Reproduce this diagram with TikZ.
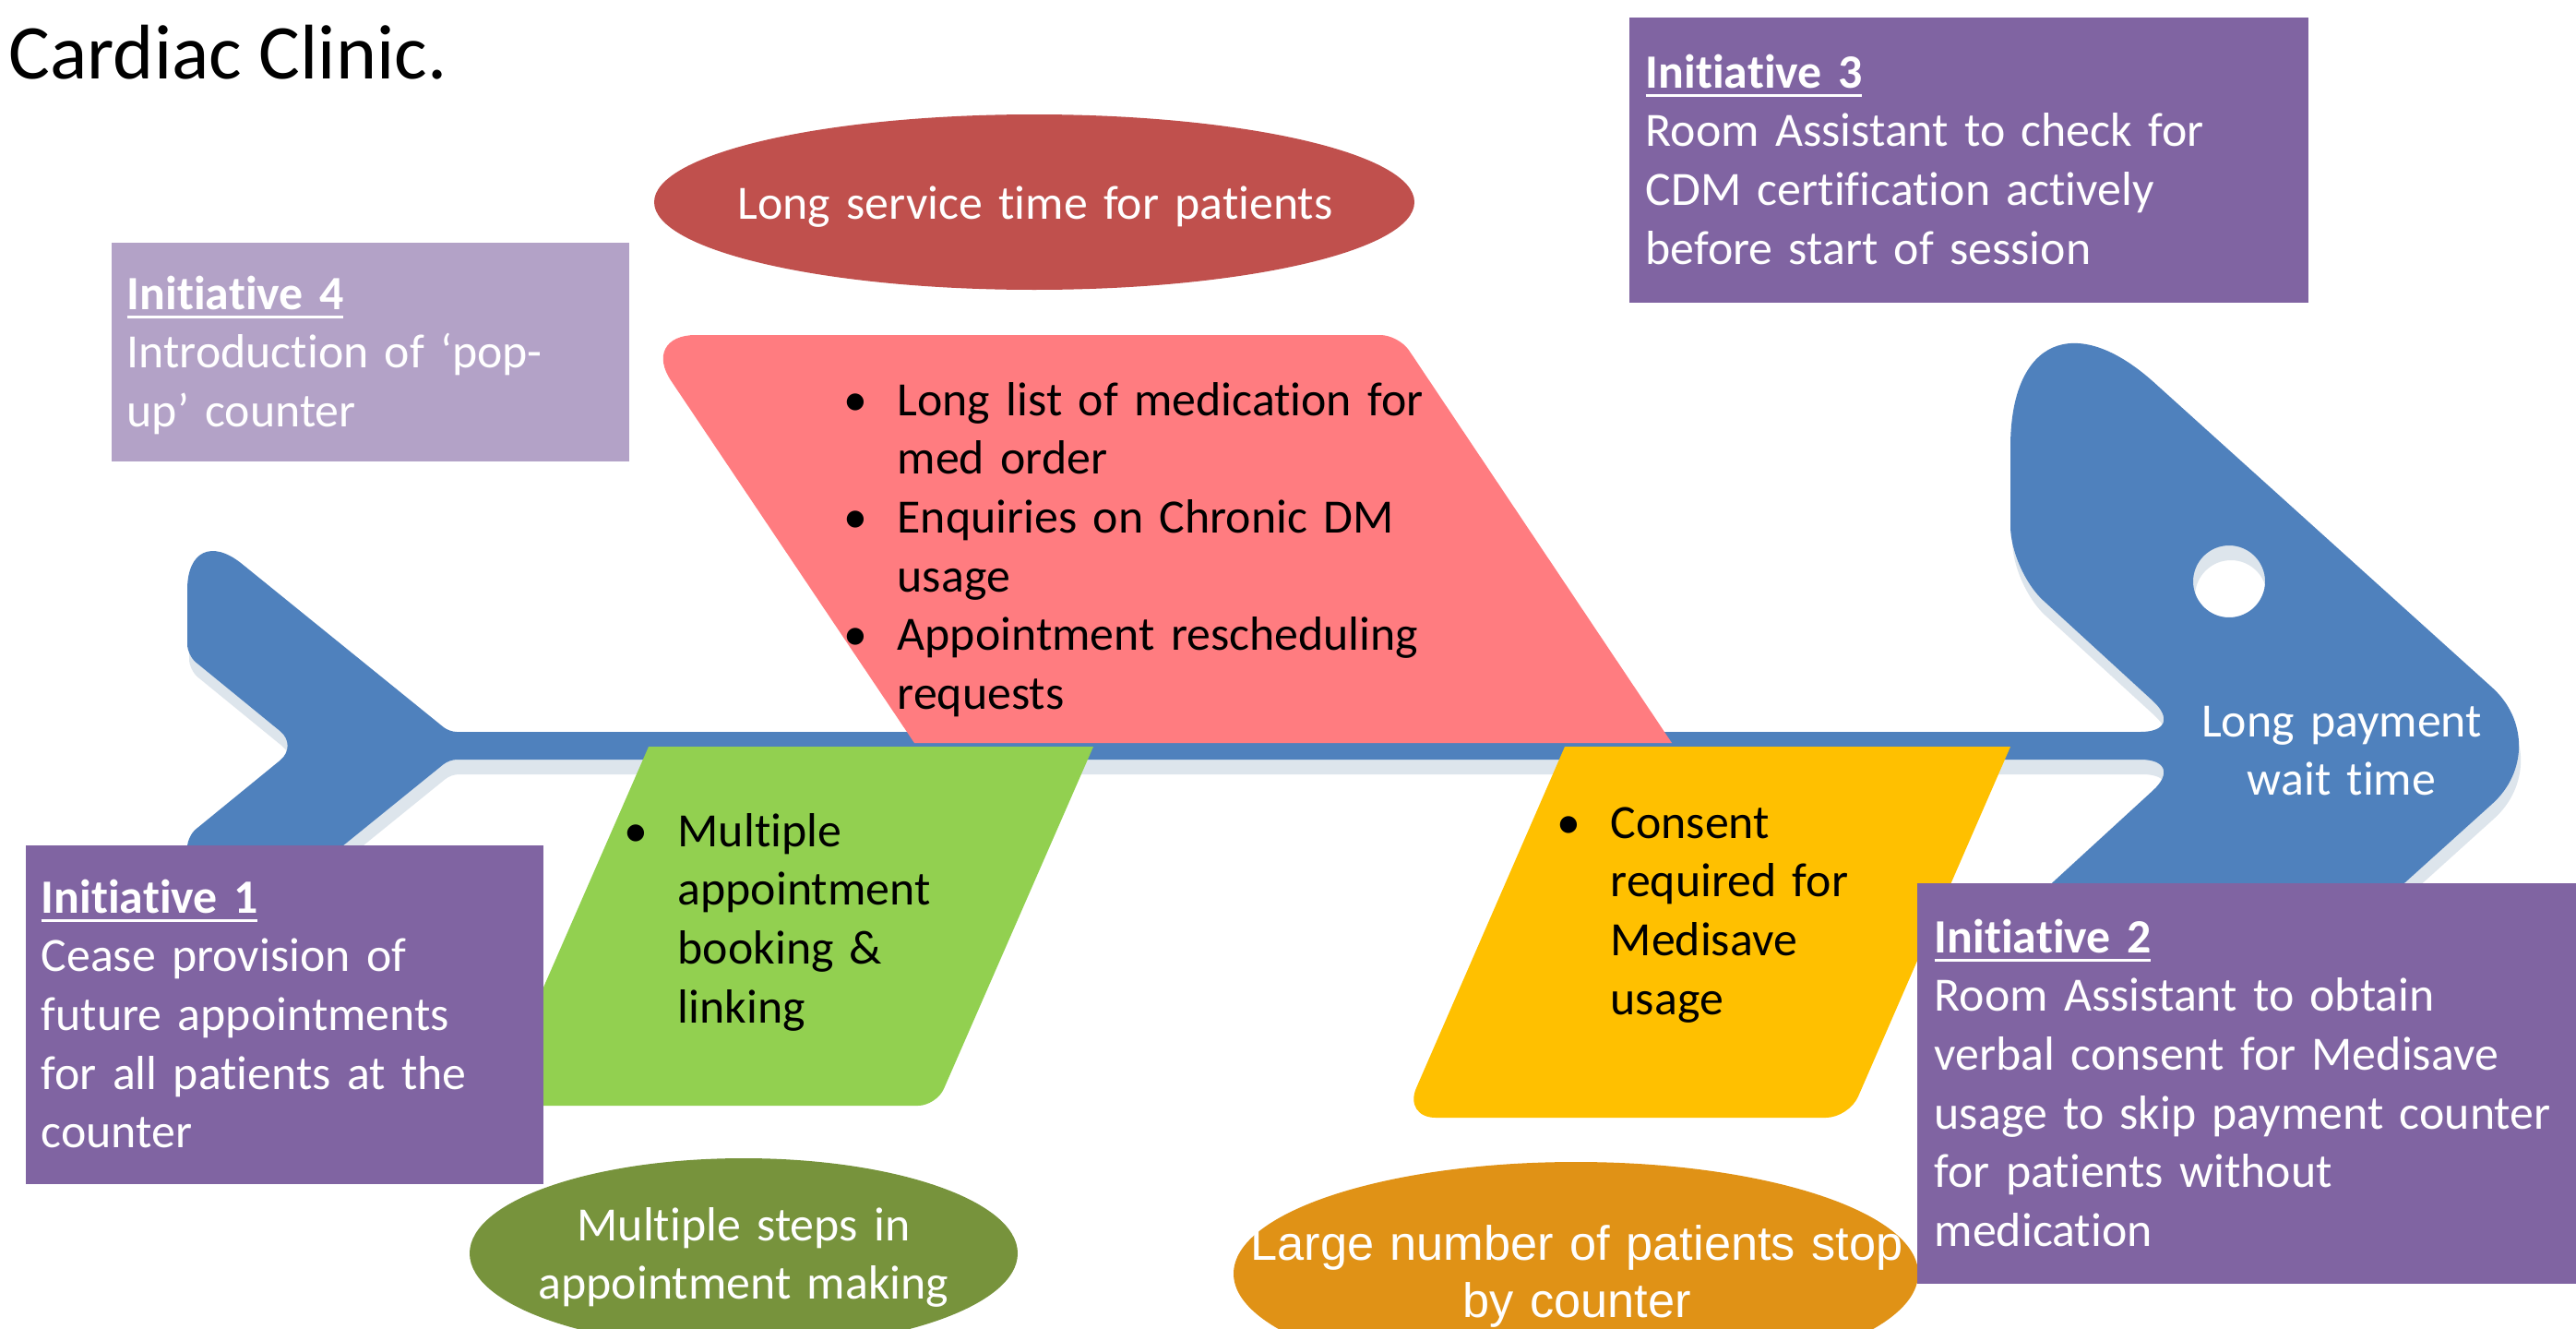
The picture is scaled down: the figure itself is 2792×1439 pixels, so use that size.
\documentclass[tikz,border=0pt]{standalone}
\usepackage{fontspec}
\setmainfont{Carlito}[Ligatures=NoCommon]
\newfontfamily\arialfont{Liberation Sans}
\definecolor{fishc}{HTML}{4F81BD}
\definecolor{shadc}{HTML}{DDE5EC}
\definecolor{redc}{HTML}{C0504D}
\definecolor{pinkc}{HTML}{FF7C80}
\definecolor{greenc}{HTML}{92D050}
\definecolor{olivec}{HTML}{77933C}
\definecolor{yellowc}{HTML}{FFC000}
\definecolor{orangec}{HTML}{E09216}
\definecolor{purplec}{HTML}{8064A2}
\definecolor{lpurplec}{HTML}{B3A2C7}
\newcommand\bodyfnt{\fontsize{14.75pt}{18.13pt}\selectfont}
\newcommand\ulx[1]{\setbox0=\hbox{#1}\rlap{\rule[-1.0mm]{\wd0}{0.33mm}}\box0}
\newcommand\bul{\leavevmode\llap{\makebox[5.8mm][l]{•}}}
\def\fishpath{(1400,793) [rounded corners=5mm] -- (2370,793) [rounded corners=4.8mm] -- (2179,618) [rounded corners=21mm] -- (2179,274) [rounded corners=9.4mm] -- (2771,808) [rounded corners=21mm] -- (2179,1342) [rounded corners=4.8mm] -- (2179,998) [rounded corners=5mm] -- (2370,823) [rounded corners=0.8mm] -- (487,823) [rounded corners=7.6mm] -- (203,1053) [rounded corners=1.2mm] -- (203,906) [rounded corners=2.5mm] -- (323,808) [rounded corners=1.2mm] -- (203,710) [rounded corners=7.6mm] -- (203,563) [rounded corners=0.8mm] -- (487,793) [sharp corners] -- cycle (2416,630) circle[radius=3.9mm]}
\begin{document}
\begin{tikzpicture}[x=0.1mm,y=-0.1mm,
  txt/.style={inner sep=0pt, anchor=base west, align=left, text width=90mm, font=\bodyfnt},
  ctxt/.style={inner sep=0pt, anchor=base, align=center, text width=90mm, font=\bodyfnt},
  box/.style={fill=purplec}]
\useasboundingbox (0,0) rectangle (2792,1439);
\fill[white] (0,0) rectangle (2792,1439);
% title
\node[inner sep=0pt, anchor=base west, font=\fontsize{23.9pt}{28pt}\selectfont] (title) at (9,85) {Cardiac Clinic.};
% ellipses
\fill[redc] (1121,219) ellipse [x radius=41.2mm, y radius=9.5mm];
\fill[olivec] (806,1358) ellipse [x radius=29.7mm, y radius=10.3mm];
\fill[orangec] (1708,1380) ellipse [x radius=37.1mm, y radius=12.1mm];
% fish shadow and fish
\begin{scope}[shift={(2,16)}]
\fill[shadc, even odd rule] \fishpath;
\end{scope}
\fill[fishc, even odd rule] \fishpath;
% bones
\fill[pinkc] (1100,363) [rounded corners=2mm] -- (1516,363) [sharp corners] -- (1812,805) -- (991,805) [rounded corners=6mm] -- (694,363) [sharp corners] -- cycle;
\fill[greenc] (900,809) -- (1185,809) [rounded corners=2mm] -- (1015,1198) [sharp corners] -- (533,1198) -- (703,809) -- cycle;
\fill[yellowc] (1900,809) -- (2179,809) [rounded corners=2.5mm] -- (2004,1211) [rounded corners=3.5mm] -- (1521,1211) [sharp corners] -- (1696,809) -- cycle;
% initiative boxes
\fill[lpurplec] (121,263) rectangle (682,500);
\fill[box] (1766,19) rectangle (2502,328);
\fill[box] (28,916) rectangle (589,1283);
\fill[box] (2078,957) rectangle (2792,1391);
% texts
\node[txt, text=white] (i4) at (137,335) {\ulx{\textbf{Initiative 4}}\\Introduction of ‘pop-\\up’ counter};
\node[txt, text=white] (i3) at (1783,95) {\ulx{\textbf{Initiative 3}}\\Room Assistant to check for\\CDM certification actively\\before start of session};
\node[txt, text=white] (i1) at (44,989) {\ulx{\textbf{Initiative 1}}\\Cease provision of\\future appointments\\for all patients at the\\counter};
\node[txt, text=white] (i2) at (2096,1032) {\ulx{\textbf{Initiative 2}}\\Room Assistant to obtain\\verbal consent for Medisave\\usage to skip payment counter\\for patients without\\medication};
\node[txt] (pinktxt) at (972,450) {\bul Long list of medication for\\med order\\\bul Enquiries on Chronic DM\\usage\\\bul Appointment rescheduling\\requests};
\node[txt] (greentxt) at (734,917) {\bul Multiple\\appointment\\booking \&\\linking};
\node[txt] (yellowtxt) at (1745,908) {\bul Consent\\required for\\Medisave\\usage};
\node[ctxt, text=white] (head) at (2538,798) {Long payment\\wait time};
\node[ctxt, text=white] (redtxt) at (1122,237) {Long service time for patients};
\node[ctxt, text=white] (olivetxt) at (806,1344) {Multiple steps in\\appointment making};
\node[ctxt, text=white, font=\arialfont\fontsize{14.9pt}{17.9pt}\selectfont] (orangetxt) at (1709,1365) {Large number of patients stop\\by counter};
\end{tikzpicture}
\end{document}
